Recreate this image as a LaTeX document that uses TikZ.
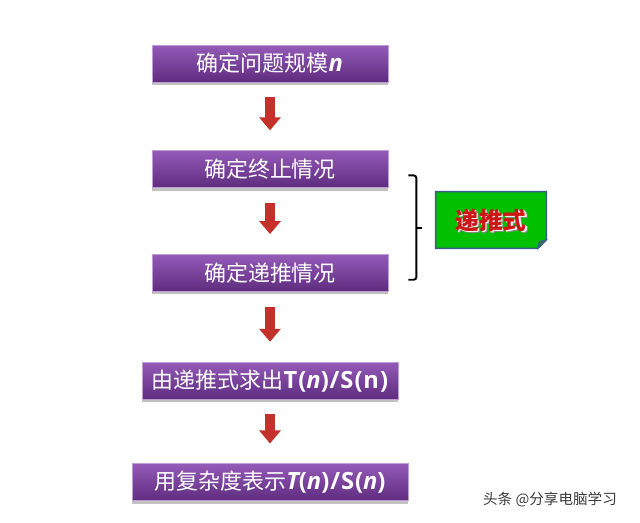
\documentclass[tikz,border=0pt]{standalone}
\usepackage{xcolor}
\usepackage{fontspec}
\setmainfont{Open Sans}[LetterSpace=4]
\newfontfamily\cjk{Noto Sans CJK SC}
\usepackage{tikz}
\usetikzlibrary{arrows.meta, positioning, calc, shadows, backgrounds}
\definecolor{boxtop}{RGB}{148, 90, 184}
\definecolor{boxbot}{RGB}{94, 44, 126}
\definecolor{arrowred}{RGB}{196, 48, 42}
\definecolor{notegreen}{RGB}{0, 192, 0}
\definecolor{noteborder}{RGB}{58, 92, 140}
\definecolor{notered}{RGB}{206, 22, 22}
\definecolor{markgray}{RGB}{58, 58, 58}
\newcommand{\lat}[1]{{\normalfont\bfseries\fontsize{13.5}{15}\selectfont #1}}
\newcommand{\vn}{{\normalfont\bfseries\itshape\fontsize{13.5}{15}\selectfont n}}
\tikzset{
  stepblock/.style={
    rectangle, top color=boxtop, bottom color=boxbot,
    draw=boxtop!60!white, line width=0.4pt,
    minimum height=0.74cm, inner sep=0pt, text=white,
    font=\cjk\fontsize{12.5}{14}\selectfont,
    drop shadow={shadow xshift=0pt, shadow yshift=-0.06cm, opacity=0.35, fill=black!70}
  },
  downarrow/.style={
    draw=arrowred, line width=0.2cm,
    -{Triangle[length=0.26cm, width=0.42cm]},
    shorten <=0.3cm, shorten >=0.4cm
  },
  recbracket/.style={
    draw=black, line width=1.1pt, rounded corners=1.5pt
  },
  notetext/.style={
    font=\cjk\bfseries\fontsize{13.5}{15}\selectfont, inner sep=0pt
  },
  watermark/.style={
    font=\cjk\fontsize{8.3}{10}\selectfont, text=markgray
  }
}

\begin{document}
\begin{tikzpicture}
  \useasboundingbox (0,0) rectangle (12.8,-10.44);

  % steps of the recursion analysis
  \node[stepblock, minimum width=4.72cm] (size) at (5.4,-1.27) {确定问题规模\vn};
  \node[stepblock, minimum width=4.72cm, below=1.36cm of size] (stop) {确定终止情况};
  \node[stepblock, minimum width=4.72cm, below=1.32cm of stop] (rec) {确定递推情况};
  \node[stepblock, minimum width=5.12cm, below=1.4cm of rec] (solve) {由递推式求出\lat{T(}\vn\lat{)/S(n)}};
  \node[stepblock, minimum width=5.52cm, below=1.28cm of solve] (bound) {用复杂度表示\lat{\itshape T}\lat{(}\vn\lat{)/S(}\vn\lat{)}};

  % red arrows
  \draw[downarrow] (size) -- (stop);
  \draw[downarrow] (stop) -- (rec);
  \draw[downarrow] (rec) -- (solve);
  \draw[downarrow] (solve) -- (bound);

  % bracket and note
  \coordinate (brtop) at ($(stop.north east)+(0.4,-0.5)$);
  \coordinate (brbot) at ($(rec.south east)+(0.4,0.24)$);
  \coordinate (brtip) at ($(brtop)!0.5!(brbot)+(0.28,0)$);
  \draw[recbracket] (brtop) -- ++(0.16,0) |- (brbot);
  \draw[recbracket, rounded corners=0pt] (brtip) -- ++(-0.12,0);
  \coordinate (notec) at (9.82,-4.4);
  \node[notetext, text=black!45] (noteshade) at ($(notec)+(0.05,-0.05)$) {递推式};
  \node[notetext, text=white] (noteglow) at ($(notec)+(0.025,-0.025)$) {递推式};
  \node[notetext, text=notered, minimum width=2.2cm, minimum height=1.12cm] (note) at (notec) {递推式};
  \begin{scope}[on background layer]
    \filldraw[fill=notegreen, draw=noteborder, line width=0.8pt]
      (note.north west) -- (note.north east) -- ($(note.south east)+(0,0.17)$)
      -- ($(note.south east)+(-0.17,0)$) -- (note.south west) -- cycle;
    \filldraw[fill=noteborder!75!notegreen, draw=noteborder, line width=0.5pt]
      ($(note.south east)+(0,0.17)$) -- ($(note.south east)+(-0.17,0)$)
      -- ($(note.south east)+(-0.14,0.14)$) -- cycle;
  \end{scope}

  \node[watermark] (mark) at (11.0,-10.0) {头条 @分享电脑学习};
\end{tikzpicture}
\end{document}
